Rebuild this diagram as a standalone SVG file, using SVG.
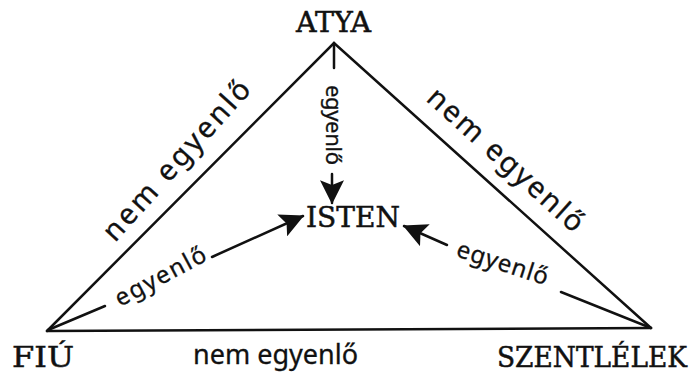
<svg xmlns="http://www.w3.org/2000/svg" width="693" height="375" viewBox="0 0 693 375">
<style>
.node{font-family:"DejaVu Serif","Liberation Serif",serif;font-size:27px;fill:#111;stroke:#111;stroke-width:0.5}
.edge{stroke:#111;stroke-width:2.5;fill:none;stroke-linecap:round}
.lbl{font-family:"Noto Sans","Open Sans",sans-serif;fill:#111;stroke:#111;stroke-width:0.3}
</style>
<defs>
<marker id="ah" viewBox="0 0 20 20" markerWidth="24" markerHeight="24" refX="19" refY="10" orient="auto" markerUnits="userSpaceOnUse">
<path d="M0,0 L20,10 L0,20 L4,10 z" fill="#111"/>
</marker>
</defs>
<rect width="693" height="375" fill="#fff"/>
<g id="connectors">
<polyline class="edge" points="47,331 334,43 651,328"/>
<line class="edge" x1="47" y1="331" x2="651" y2="328"/>
<line class="edge" x1="334" y1="43" x2="334" y2="68"/>
<line class="edge" x1="332" y1="174" x2="332" y2="203" marker-end="url(#ah)"/>
<line class="edge" x1="48" y1="330" x2="105" y2="306"/>
<line class="edge" x1="212" y1="257" x2="303" y2="216" marker-end="url(#ah)"/>
<line class="edge" x1="651" y1="328" x2="561" y2="292"/>
<line class="edge" x1="447" y1="245" x2="404" y2="226" marker-end="url(#ah)"/>
<text class="lbl" font-size="29" transform="translate(115,243) rotate(-48)" textLength="205" lengthAdjust="spacing">nem egyenlő</text>
<text class="lbl" font-size="29" transform="translate(425,100) rotate(42)" textLength="200" lengthAdjust="spacing">nem egyenlő</text>
<text class="lbl" font-size="27" x="193" y="364" textLength="165" lengthAdjust="spacing">nem egyenlő</text>
<text class="lbl" font-size="22" transform="translate(326,85) rotate(90)" textLength="80" lengthAdjust="spacing">egyenlő</text>
<text class="lbl" font-size="24" transform="translate(120,307) rotate(-28)" textLength="100" lengthAdjust="spacing">egyenlő</text>
<text class="lbl" font-size="24" transform="translate(455,256) rotate(18)" textLength="95" lengthAdjust="spacing">egyenlő</text>
</g>
<g id="atya"><text class="node" x="296" y="32" textLength="75" lengthAdjust="spacingAndGlyphs">ATYA</text></g>
<g id="fiu"><text class="node" x="12" y="367" textLength="62" lengthAdjust="spacingAndGlyphs">FIÚ</text></g>
<g id="szentlelek"><text class="node" x="497" y="367" textLength="190" lengthAdjust="spacingAndGlyphs">SZENTLÉLEK</text></g>
<g id="isten"><text class="node" x="306" y="227" textLength="94" lengthAdjust="spacingAndGlyphs">ISTEN</text></g>
</svg>
